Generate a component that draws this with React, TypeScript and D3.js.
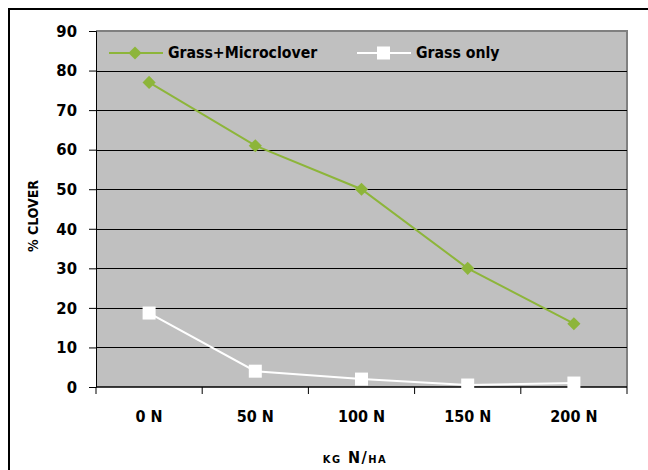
import React, { useEffect, useRef } from "react";
import * as d3 from "d3";

const categories = ["0 N", "50 N", "100 N", "150 N", "200 N"];
const microcloverValues = [77, 61, 50, 30, 16];
const grassOnlyValues = [18.7, 4, 2, 0.5, 1];
const yTicks = [0, 10, 20, 30, 40, 50, 60, 70, 80, 90];

const FONT = "'DejaVu Sans Condensed', 'Liberation Sans Narrow', sans-serif";
const GREEN = "#8db53a";

const App = () => {
  const svgRef = useRef<SVGSVGElement | null>(null);

  useEffect(() => {
    const width = 648;
    const height = 470;
    const margin = { top: 31, right: 21, bottom: 83, left: 96 };

    const svg = d3.select(svgRef.current).attr("width", width).attr("height", height);
    svg.selectAll("*").remove();

    // outer frame (only top and left show within the window)
    svg.append("path")
      .attr("d", `M9,${height + 5}V9H${width + 5}`)
      .attr("fill", "none")
      .attr("stroke", "#000")
      .attr("stroke-width", 2);

    const x = d3.scaleBand()
      .domain(categories)
      .range([margin.left, width - margin.right]);

    const y = d3.scaleLinear()
      .domain([0, 90])
      .range([height - margin.bottom, margin.top]);

    // plot area
    svg.append("rect")
      .attr("x", margin.left)
      .attr("y", margin.top)
      .attr("width", width - margin.left - margin.right)
      .attr("height", height - margin.top - margin.bottom)
      .attr("fill", "#c0c0c0");

    svg.append("path")
      .attr("d", `M${margin.left},${margin.top}H${width - margin.right}V${height - margin.bottom}`)
      .attr("fill", "none")
      .attr("stroke", "#808080")
      .attr("stroke-width", 2);

    // gridlines
    svg.append("g")
      .selectAll("line")
      .data(yTicks.filter((t) => t > 0 && t < 90))
      .enter()
      .append("line")
      .attr("x1", margin.left)
      .attr("x2", width - margin.right)
      .attr("y1", (d) => Math.round(y(d)) + 0.5)
      .attr("y2", (d) => Math.round(y(d)) + 0.5)
      .attr("stroke", "#000")
      .attr("stroke-width", 1);

    // y axis
    const yAxis = svg.append("g")
      .attr("transform", `translate(${margin.left},0)`)
      .call(d3.axisLeft(y).tickValues(yTicks).tickSize(7).tickPadding(12).tickFormat(d3.format("d")));
    yAxis.select(".domain").attr("stroke", "#000");
    yAxis.selectAll("text")
      .attr("font-family", FONT)
      .attr("font-weight", "bold")
      .attr("font-size", 16.5)
      .attr("fill", "#000");

    // x axis with ticks at band edges
    const xAxis = svg.append("g")
      .attr("transform", `translate(0,${height - margin.bottom})`)
      .call(d3.axisBottom(x).tickSize(0).tickPadding(24));
    xAxis.select(".domain").remove();
    xAxis.selectAll("text")
      .attr("font-family", FONT)
      .attr("font-weight", "bold")
      .attr("font-size", 16)
      .attr("fill", "#000");

    svg.append("line")
      .attr("x1", margin.left)
      .attr("x2", width - margin.right)
      .attr("y1", height - margin.bottom)
      .attr("y2", height - margin.bottom)
      .attr("stroke", "#000")
      .attr("stroke-width", 1.5);

    const edges = categories.map((c) => x(c)!).concat([width - margin.right]);
    svg.append("g")
      .selectAll("line")
      .data(edges)
      .enter()
      .append("line")
      .attr("x1", (d) => d)
      .attr("x2", (d) => d)
      .attr("y1", height - margin.bottom)
      .attr("y2", height - margin.bottom + 7)
      .attr("stroke", "#000");

    const cx = (c: string) => x(c)! + x.bandwidth() / 2;
    const line = d3.line<number>()
      .x((_, i) => cx(categories[i]))
      .y((d) => y(d));

    const diamond = d3.symbol().type(d3.symbolDiamond2).size(110);

    // Grass only series
    svg.append("path")
      .datum(grassOnlyValues)
      .attr("d", line)
      .attr("fill", "none")
      .attr("stroke", "#fff")
      .attr("stroke-width", 2);
    svg.append("g")
      .selectAll("rect")
      .data(grassOnlyValues)
      .enter()
      .append("rect")
      .attr("x", (_, i) => cx(categories[i]) - 6.5)
      .attr("y", (d) => y(d) - 6.5)
      .attr("width", 13)
      .attr("height", 13)
      .attr("fill", "#fff");

    // Grass+Microclover series
    svg.append("path")
      .datum(microcloverValues)
      .attr("d", line)
      .attr("fill", "none")
      .attr("stroke", GREEN)
      .attr("stroke-width", 2);
    svg.append("g")
      .selectAll("path")
      .data(microcloverValues)
      .enter()
      .append("path")
      .attr("d", diamond)
      .attr("transform", (d, i) => `translate(${cx(categories[i])},${y(d)})`)
      .attr("fill", GREEN);

    // legend
    const ly = 53;
    const legend = svg.append("g");
    legend.append("line")
      .attr("x1", 109).attr("x2", 163).attr("y1", ly).attr("y2", ly)
      .attr("stroke", GREEN).attr("stroke-width", 2);
    legend.append("path")
      .attr("d", diamond)
      .attr("transform", `translate(135,${ly})`)
      .attr("fill", GREEN);
    legend.append("text")
      .attr("x", 168).attr("y", ly).attr("dy", "0.35em")
      .attr("font-family", FONT).attr("font-weight", "bold").attr("font-size", 15.7)
      .text("Grass+Microclover");

    legend.append("line")
      .attr("x1", 357).attr("x2", 411).attr("y1", ly).attr("y2", ly)
      .attr("stroke", "#fff").attr("stroke-width", 2);
    legend.append("rect")
      .attr("x", 377).attr("y", ly - 6.5).attr("width", 13).attr("height", 13)
      .attr("fill", "#fff");
    legend.append("text")
      .attr("x", 416).attr("y", ly).attr("dy", "0.35em")
      .attr("font-family", FONT).attr("font-weight", "bold").attr("font-size", 15.7)
      .text("Grass only");

    // axis titles
    svg.append("text")
      .attr("transform", "translate(38,216) rotate(-90)")
      .attr("text-anchor", "middle")
      .attr("font-family", FONT).attr("font-weight", "bold").attr("font-size", 14)
      .text("% CLOVER");

    svg.append("text")
      .attr("x", 355)
      .attr("y", 463)
      .attr("text-anchor", "middle")
      .attr("font-family", FONT).attr("font-weight", "bold").attr("font-size", 16)
      .attr("letter-spacing", 1.5)
      .style("font-variant", "small-caps")
      .text("kg N/ha");
  }, []);

  return (
    <div>
      <svg ref={svgRef} style={{ position: "absolute", left: 0, top: 0, background: "#fff" }}></svg>
    </div>
  );
};

export default App;
